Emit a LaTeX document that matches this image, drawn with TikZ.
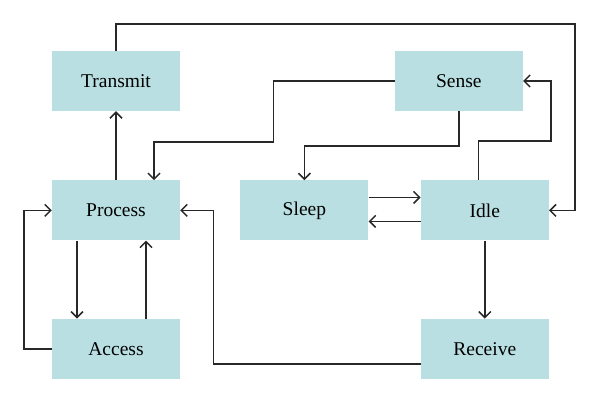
\documentclass[tikz,border=0pt]{standalone}
\usepackage{fontspec}
\setmainfont{Liberation Serif}
\usepackage{tikz}
\usetikzlibrary{arrows.meta,positioning}
\definecolor{boxfill}{RGB}{185,223,226}
\definecolor{linecol}{RGB}{40,40,40}
\tikzset{
  state/.style ={fill=boxfill,align=center,minimum width=128bp,minimum height=60bp,
                 inner sep=0pt,font=\fontsize{19.5bp}{22bp}\selectfont},
  arrow/.style ={-{Straight Barb[length=6bp,width=12bp]},line width=1.5bp,draw=linecol}
}
\begin{document}
\begin{tikzpicture}[x=1bp,y=-1bp,node distance=69bp and 60bp]
    \useasboundingbox (0,0) rectangle (600,401);
    \node[state] (tx) at (116,81) {Transmit};
    \node[state,below=69bp of tx]  (proc)  {Process};
    \node[state,below=78bp of proc] (acc) {Access};
    \node[state,right=60bp of proc] (sleep) {Sleep};
    \node[state,right=52bp of sleep] (idle) {Idle};
    \node[state,above=69bp of idle,xshift=-26bp] (sense) {Sense};
    \node[state,below=78bp of idle] (rx) {Receive};
    \draw[arrow] (proc) -- (tx);
    \draw[arrow] (tx.north) -- ++(0,-27) -| ([xshift=26bp]idle.east) -- (idle.east);
    \draw[arrow] (sense.west) -- ++(-121,0) -- ++(0,61) -| ([xshift=38bp]proc.north);
    \draw[arrow] (sense.south) -- ++(0,35) -| (sleep.north);
    \draw[arrow] ([xshift=-6.5bp]idle.north) -- ++(0,-39) -| ([xshift=28bp]sense.east) -- (sense.east);
    \draw[arrow] ([yshift=13bp]sleep.east) -- ([yshift=13bp]idle.west);
    \draw[arrow] ([yshift=-11bp]idle.west) -- ([yshift=-11bp]sleep.east);
    \draw[arrow] (idle) -- (rx);
    \draw[arrow] ([yshift=-15bp]rx.west) -- ++(-207,0) |- (proc.east);
    \draw[arrow] ([xshift=-39bp]proc.south) -- ([xshift=-39bp]acc.north);
    \draw[arrow] ([xshift=30bp]acc.north) -- ([xshift=30bp]proc.south);
    \draw[arrow] (acc.west) -- ++(-28,0) |- (proc.west);
  \end{tikzpicture}
\end{document}
